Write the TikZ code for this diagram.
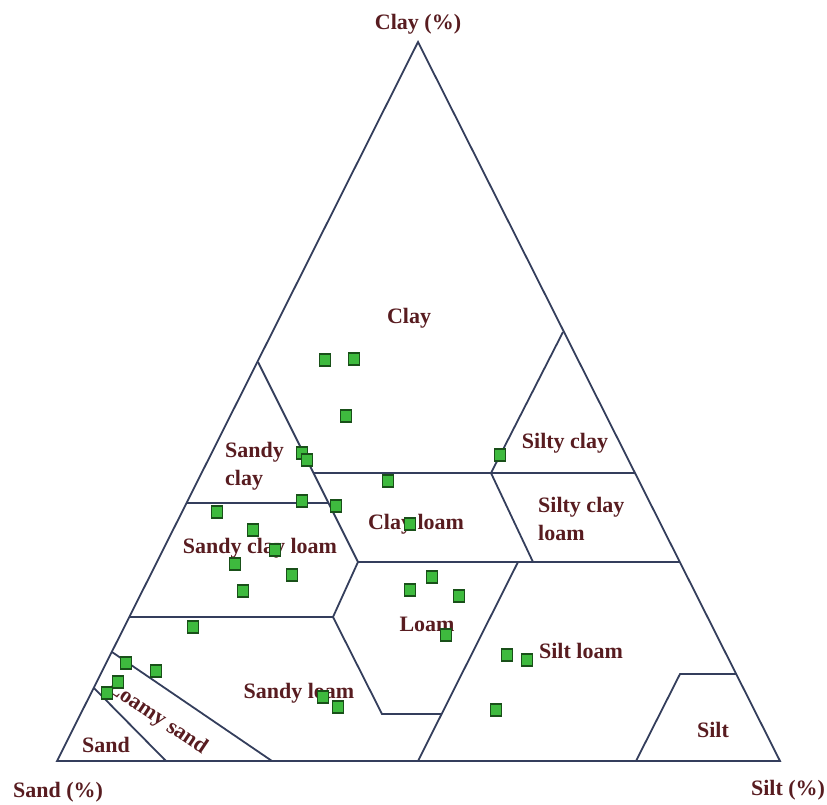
\documentclass[tikz,border=0pt]{standalone}
\usepackage{fontspec}
\setmainfont{Liberation Serif}
\definecolor{lab}{RGB}{88,28,32}
\definecolor{edge}{RGB}{52,62,92}
\definecolor{ptfill}{RGB}{62,186,62}
\definecolor{ptdraw}{RGB}{25,80,25}
\begin{document}
\begin{tikzpicture}[x=1pt,y=-1pt,
  bd/.style={draw=edge,line width=1.8pt,line join=miter},
  lbl/.style={text=lab,font=\fontsize{22}{28}\selectfont\bfseries,inner sep=0pt},
  pt/.style={draw=ptdraw,fill=ptfill,line width=1.3pt,minimum width=11pt,minimum height=12pt,inner sep=0pt}]
\useasboundingbox (0,0) rectangle (827,804);
% triangle corners
\coordinate (A) at (418,42);
\coordinate (L) at (57,761);
\coordinate (R) at (780,761);
% boundary points
\coordinate (sc1) at (258,362);
\coordinate (sc2) at (358,562);
\coordinate (h1a) at (314,473);
\coordinate (h1b) at (635,473);
\coordinate (sy1) at (563,332);
\coordinate (sy2) at (491,473);
\coordinate (sy3) at (533,562);
\coordinate (h2a) at (187,503);
\coordinate (h2b) at (328,503);
\coordinate (h3b) at (679,562);
\coordinate (lo1) at (333,617);
\coordinate (lo2) at (382,714);
\coordinate (lo3) at (441,714);
\coordinate (h4a) at (129,617);
\coordinate (sl1) at (418,761);
\coordinate (sl2) at (518,562);
\coordinate (si1) at (636,761);
\coordinate (si2) at (680,674);
\coordinate (si3) at (736,674);
\coordinate (ls1) at (112,652);
\coordinate (ls2) at (272,761);
\coordinate (sd1) at (94,688);
\coordinate (sd2) at (166,761);

\draw[bd] (A) -- (L) -- (R) -- cycle;
\draw[bd] (sc1) -- (sc2);
\draw[bd] (h1a) -- (h1b);
\draw[bd] (sy1) -- (sy2) -- (sy3);
\draw[bd] (h2a) -- (h2b);
\draw[bd] (sc2) -- (h3b);
\draw[bd] (sc2) -- (lo1) -- (lo2) -- (lo3);
\draw[bd] (h4a) -- (lo1);
\draw[bd] (sl1) -- (sl2);
\draw[bd] (si1) -- (si2) -- (si3);
\draw[bd] (ls1) -- (ls2);
\draw[bd] (sd1) -- (sd2);

% axis labels
\node[lbl] (tclayax) at (418,24) {Clay (\%)};
\node[lbl] (tsandax) at (58,792) {Sand (\%)};
\node[lbl] (tsiltax) at (788,790) {Silt (\%)};
% region labels
\node[lbl] (tclay) at (409,318) {Clay};
\node[lbl,anchor=west,align=left] (tsandyclay) at (225,466) {Sandy\\clay};
\node[lbl] (tsiltyclay) at (565,443) {Silty clay};
\node[lbl,anchor=west,align=left] (tsiltyclayloam) at (538,519) {Silty clay\\loam};
\node[lbl] (tclayloam) at (416,524) {Clay loam};
\node[lbl] (tsandyclayloam) at (260,548) {Sandy clay loam};
\node[lbl] (tloam) at (427,624) {Loam};
\node[lbl] (tsiltloam) at (581,651) {Silt loam};
\node[lbl] (tsilt) at (713,730) {Silt};
\node[lbl] (tsandyloam) at (299,693) {Sandy loam};
\node[lbl,rotate=-34] (tloamysand) at (157,718) {Loamy sand};
\node[lbl] (tsand) at (106,745) {Sand};

% samples
\foreach \px/\py [count=\i] in {325/360,354/359,346/416,302/453,307/460,500/455,388/481,302/501,336/506,217/512,410/524,253/530,275/550,235/564,292/575,243/591,193/627,126/663,156/671,118/682,107/693,323/697,338/707,410/590,432/577,459/596,446/635,507/655,527/660,496/710}
  \node[pt] (p\i) at (\px,\py) {};
\end{tikzpicture}
\end{document}
